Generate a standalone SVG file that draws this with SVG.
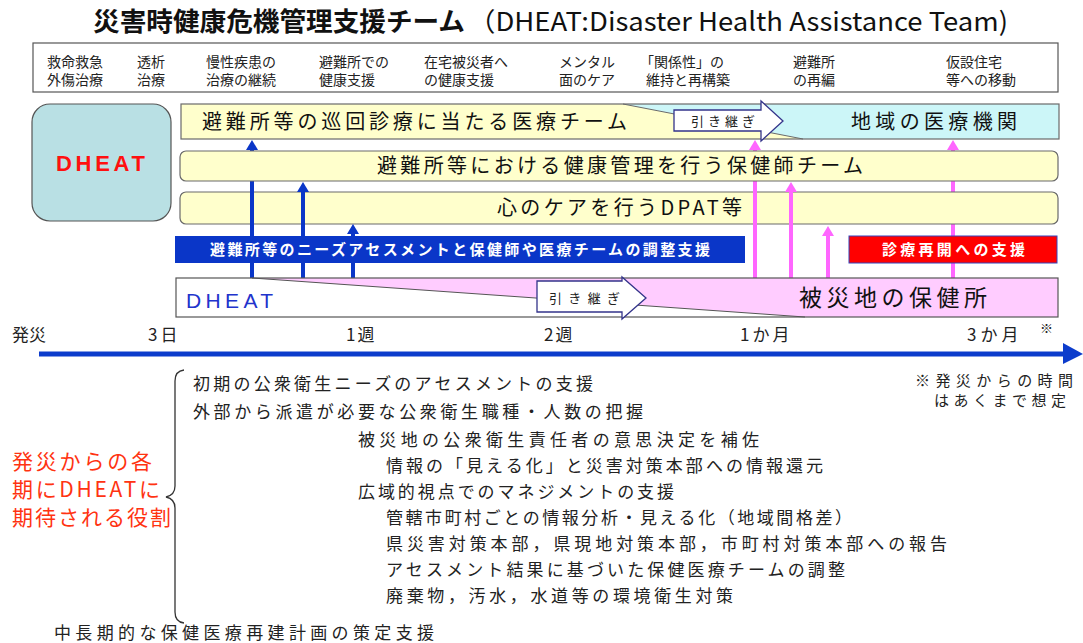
<svg xmlns="http://www.w3.org/2000/svg" width="1083" height="643" viewBox="0 0 1083 643">
<style>
text{font-family:"Noto Sans CJK JP","Noto Sans",sans-serif}
.lat{font-family:"Liberation Sans",Arial,sans-serif}
.hdr{font-size:14px;fill:#222}
.yrow{fill:#ffffcc;stroke:#6a6a6a;stroke-width:1.2}
.rt{font-size:20px;fill:#111}
.tl{font-size:17px;fill:#222}
.body{font-size:17px;fill:#222}
.red{font-size:21px;fill:#ff3311}
.hand{fill:#fff;stroke:#33338a;stroke-width:1.3}
.ht{font-size:13px;fill:#222}
.blue{stroke:#0a36c8;stroke-width:4}
.pink{stroke:#ff66ff;stroke-width:4}
</style>
<defs>
<marker id="ab" viewBox="0 0 10 12" refX="0" refY="6" markerWidth="10" markerHeight="12" markerUnits="userSpaceOnUse" orient="auto"><path d="M0,0 L10,6 L0,12 z" fill="#0a36c8"/></marker>
<marker id="ap" viewBox="0 0 10 12" refX="0" refY="6" markerWidth="10" markerHeight="12" markerUnits="userSpaceOnUse" orient="auto"><path d="M0,0 L10,6 L0,12 z" fill="#ff66ff"/></marker>
</defs>
<rect width="1083" height="643" fill="#fff"/>

<g id="title">
<text x="93" y="31" font-size="26" font-weight="bold" fill="#111" textLength="372" lengthAdjust="spacingAndGlyphs">災害時健康危機管理支援チーム</text>
<text x="468" y="31" font-size="26" fill="#111" textLength="540" lengthAdjust="spacingAndGlyphs">（DHEAT:Disaster Health Assistance Team)</text>
</g>

<g id="header">
<rect x="33" y="43" width="1025" height="49" fill="#fff" stroke="#555" stroke-width="1.2"/>
<text class="hdr" x="47" y="67">救命救急</text><text class="hdr" x="47" y="85">外傷治療</text>
<text class="hdr" x="137" y="67">透析</text><text class="hdr" x="137" y="85">治療</text>
<text class="hdr" x="206" y="67">慢性疾患の</text><text class="hdr" x="206" y="85">治療の継続</text>
<text class="hdr" x="319" y="67">避難所での</text><text class="hdr" x="319" y="85">健康支援</text>
<text class="hdr" x="424" y="67">在宅被災者へ</text><text class="hdr" x="424" y="85">の健康支援</text>
<text class="hdr" x="559" y="67">メンタル</text><text class="hdr" x="559" y="85">面のケア</text>
<text class="hdr" x="640" y="67">「関係性」の</text><text class="hdr" x="646" y="85">維持と再構築</text>
<text class="hdr" x="793" y="67">避難所</text><text class="hdr" x="793" y="85">の再編</text>
<text class="hdr" x="946" y="67">仮設住宅</text><text class="hdr" x="946" y="85">等への移動</text>
</g>

<g id="dheat-box">
<rect x="32" y="104" width="139" height="117" rx="18" fill="#b9e0e4" stroke="#555" stroke-width="1.2"/>
<text class="lat" x="56" y="171" font-size="22" font-weight="bold" fill="#ff1010" textLength="89" lengthAdjust="spacing">DHEAT</text>
</g>

<g id="row-medical">
<polygon points="181,104 623,104 803,139 181,139" fill="#ffffcc"/>
<polygon points="623,104 1059,104 1059,139 803,139" fill="#ccf6f8"/>
<line x1="623" y1="104" x2="803" y2="139" stroke="#6a6a6a" stroke-width="1"/>
<rect x="181" y="104" width="878" height="35" fill="none" stroke="#6a6a6a" stroke-width="1.2"/>
<text class="rt" x="202" y="129" textLength="425" lengthAdjust="spacing">避難所等の巡回診療に当たる医療チーム</text>
<text class="rt" x="851" y="129" textLength="166" lengthAdjust="spacing">地域の医療機関</text>
</g>

<g id="handover-top">
<polygon class="hand" points="674,110 761,110 761,101 783,121 761,141 761,131 674,131"/>
<text class="ht" x="691" y="126" textLength="64" lengthAdjust="spacing">引き継ぎ</text>
</g>

<g id="connectors-back">
<line class="pink" x1="953" y1="278" x2="953" y2="150" marker-end="url(#ap)"/>
</g>

<g id="row-dpat">
<rect class="yrow" x="180" y="192" width="878" height="32" rx="6"/>
<text class="rt" x="497" y="215" textLength="245" lengthAdjust="spacing">心のケアを行うDPAT等</text>
</g>

<g id="bar-restart">
<rect x="849" y="236" width="208" height="27" fill="#ff0000" stroke="#3344bb" stroke-width="1"/>
<text x="882" y="255" font-size="15" font-weight="bold" fill="#fff" textLength="143" lengthAdjust="spacing">診療再開への支援</text>
</g>

<g id="connectors">
<line class="blue" x1="252" y1="278" x2="252" y2="150" marker-end="url(#ab)"/>
<line class="blue" x1="303" y1="278" x2="303" y2="192" marker-end="url(#ab)"/>
<line class="blue" x1="353" y1="278" x2="353" y2="234" marker-end="url(#ab)"/>
<line class="pink" x1="755" y1="278" x2="755" y2="150" marker-end="url(#ap)"/>
<line class="pink" x1="791" y1="278" x2="791" y2="192" marker-end="url(#ap)"/>
<line class="pink" x1="828" y1="278" x2="828" y2="236" marker-end="url(#ap)"/>
</g>

<g id="row-nurse">
<rect class="yrow" x="180" y="151" width="878" height="30" rx="6"/>
<text class="rt" x="377" y="173" textLength="486" lengthAdjust="spacing">避難所等における健康管理を行う保健師チーム</text>
</g>

<g id="bar-assess">
<rect x="175" y="236" width="570" height="27" fill="#0a36c8"/>
<text x="210" y="255" font-size="15" font-weight="bold" fill="#fff" textLength="500" lengthAdjust="spacing">避難所等のニーズアセスメントと保健師や医療チームの調整支援</text>
</g>

<g id="row-hokenjo">
<rect x="176" y="278" width="882" height="39" fill="#fff"/>
<polygon points="252,278 1058,278 1058,317 805,317" fill="#ffccff"/>
<line x1="252" y1="278" x2="805" y2="317" stroke="#555" stroke-width="1"/>
<rect x="176" y="278" width="882" height="39" fill="none" stroke="#555" stroke-width="1.2"/>
<text class="lat" x="186" y="308" font-size="21" fill="#2233cc" textLength="87" lengthAdjust="spacing">DHEAT</text>
<text x="799" y="306" font-size="23" fill="#111" textLength="188" lengthAdjust="spacing">被災地の保健所</text>
</g>

<g id="handover-bottom">
<polygon class="hand" points="537,281 622,281 622,277 646,298 622,319 622,312 537,312"/>
<text class="ht" x="549" y="303" textLength="71" lengthAdjust="spacing">引き継ぎ</text>
</g>

<g id="timeline">
<line x1="39" y1="354" x2="1064" y2="354" stroke="#0c3ccc" stroke-width="5"/>
<polygon points="1063,343 1083,354 1063,364" fill="#0c3ccc"/>
<text class="tl" x="12" y="341">発災</text>
<text class="tl" x="148" y="341" letter-spacing="3">3日</text>
<text class="tl" x="346" y="341" letter-spacing="2">1週</text>
<text class="tl" x="544" y="341" letter-spacing="2">2週</text>
<text class="tl" x="740" y="341" letter-spacing="3">1か月</text>
<text class="tl" x="967" y="341" letter-spacing="4">3か月</text>
<text x="1040" y="333" font-size="13" fill="#222">※</text>
<text x="915" y="386" font-size="15" fill="#222" textLength="158" lengthAdjust="spacing">※発災からの時間</text>
<text x="934" y="406" font-size="15" fill="#222" textLength="132" lengthAdjust="spacing">はあくまで想定</text>
</g>

<g id="roles">
<text class="red" x="12" y="469" textLength="140" lengthAdjust="spacing">発災からの各</text>
<text class="red" x="12" y="497" textLength="148" lengthAdjust="spacing">期にDHEATに</text>
<text class="red" x="12" y="525" textLength="159" lengthAdjust="spacing">期待される役割</text>
<path d="M184,370 Q175,371 175,381 L175,486 Q175,495 166,497 Q175,499 175,508 L175,612 Q175,622 184,623" fill="none" stroke="#333" stroke-width="1.3"/>
<text class="body" x="193" y="390" textLength="400" lengthAdjust="spacing">初期の公衆衛生ニーズのアセスメントの支援</text>
<text class="body" x="193" y="418" textLength="450" lengthAdjust="spacing">外部から派遣が必要な公衆衛生職種・人数の把握</text>
<text class="body" x="358" y="446" textLength="401" lengthAdjust="spacing">被災地の公衆衛生責任者の意思決定を補佐</text>
<text class="body" x="386" y="472" textLength="437" lengthAdjust="spacing">情報の「見える化」と災害対策本部への情報還元</text>
<text class="body" x="358" y="498" textLength="316" lengthAdjust="spacing">広域的視点でのマネジメントの支援</text>
<text class="body" x="386" y="524" textLength="466" lengthAdjust="spacing">管轄市町村ごとの情報分析・見える化（地域間格差）</text>
<text class="body" x="386" y="550" textLength="561" lengthAdjust="spacing">県災害対策本部，県現地対策本部，市町村対策本部への報告</text>
<text class="body" x="386" y="576" textLength="459" lengthAdjust="spacing">アセスメント結果に基づいた保健医療チームの調整</text>
<text class="body" x="386" y="602" textLength="347" lengthAdjust="spacing">廃棄物，汚水，水道等の環境衛生対策</text>
<text class="body" x="54" y="639" textLength="380" lengthAdjust="spacing">中長期的な保健医療再建計画の策定支援</text>
</g>
</svg>
